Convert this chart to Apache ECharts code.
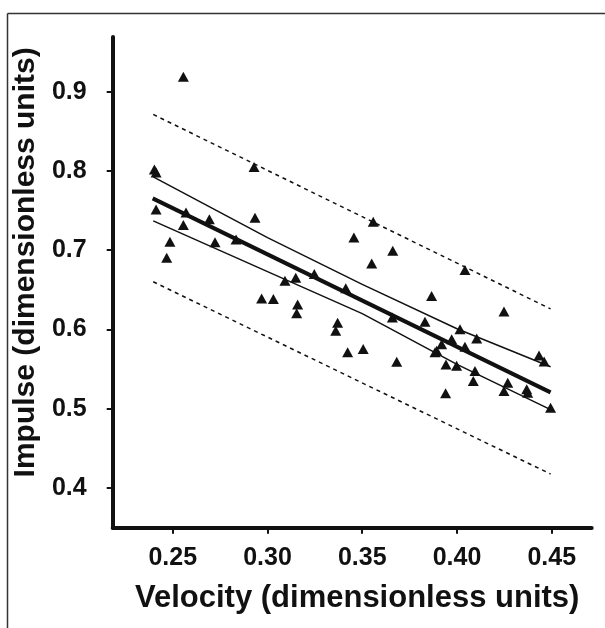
<!DOCTYPE html>
<html>
<head>
<meta charset="utf-8">
<script src="https://cdn.jsdelivr.net/npm/echarts@6/dist/echarts.min.js"></script>
<style>
  html, body { margin: 0; padding: 0; background: #fff; }
  #chart { width: 605px; height: 628px; }
</style>
</head>
<body>
<div id="chart"></div>
<script>
// measured points (velocity, impulse)
var velocity = [0.2403, 0.2412, 0.2556, 0.2929, 0.2412, 0.2570, 0.2693, 0.2556, 0.2934, 0.2485,
                0.2723, 0.2834, 0.2468, 0.3456, 0.3092, 0.3149, 0.3247, 0.3413, 0.2969, 0.3031,
                0.3159, 0.3154, 0.3370, 0.3558, 0.3661, 0.3550, 0.3866, 0.3659, 0.4042, 0.3831,
                0.3360, 0.4016, 0.4104, 0.3972, 0.3919, 0.4042, 0.3893, 0.3884, 0.3423, 0.3505,
                0.3682, 0.3942, 0.3998, 0.4095, 0.4086, 0.3940, 0.4268, 0.4248, 0.4368, 0.4373,
                0.4494, 0.4248, 0.4433, 0.4460];
var impulse = [0.802, 0.798, 0.919, 0.805, 0.7515, 0.7477, 0.739, 0.7317, 0.741, 0.7107,
               0.710, 0.7137, 0.6905, 0.716, 0.6615, 0.6653, 0.670, 0.652, 0.639, 0.6384,
               0.6317, 0.6204, 0.6085, 0.7359, 0.6993, 0.6834, 0.6422, 0.6153, 0.675, 0.6098,
               0.5984, 0.6002, 0.5888, 0.5876, 0.5813, 0.5783, 0.5732, 0.5712, 0.5712, 0.5753,
               0.5593, 0.556, 0.5543, 0.5476, 0.535, 0.5195, 0.5329, 0.5224, 0.5245, 0.5203,
               0.5013, 0.6227, 0.5673, 0.5598];

// regression line
var fitX = [0.2394, 0.4494];
var fitY = [0.7654, 0.5207];

// confidence band
var bandX = [0.2397, 0.30, 0.35, 0.40, 0.4494];
var confUpper = [0.7926, 0.716, 0.657, 0.601, 0.553];
var confLower = [0.737, 0.673, 0.620, 0.556, 0.499];

// prediction band
var predX = [0.2397, 0.4494];
var predUpper = [0.8713, 0.626];
var predLower = [0.6602, 0.4177];

var xTicks = [0.25, 0.30, 0.35, 0.40, 0.45];
var yTicks = [0.4, 0.5, 0.6, 0.7, 0.8, 0.9];

function pairs(xs, ys) {
    return xs.map(function (x, i) { return [x, ys[i]]; });
}

var font = '"Liberation Sans", Arial, sans-serif';
var ink = '#111';

function bandLine(xs, ys, width, dashed) {
    return {
        type: 'line',
        data: pairs(xs, ys),
        symbol: 'none',
        silent: true,
        z: 2,
        lineStyle: { color: ink, width: width, type: dashed ? [4, 4] : 'solid' }
    };
}

var chart = echarts.init(document.getElementById('chart'));
chart.setOption({
    animation: false,
    backgroundColor: '#fff',
    grid: { left: 112.7, right: 13.3, top: 37, bottom: 100.3 },
    graphic: [
        { type: 'line', shape: { x1: 7.5, y1: 13.5, x2: 605, y2: 13.5 }, style: { stroke: '#333', lineWidth: 1.5 } },
        { type: 'line', shape: { x1: 7.5, y1: 13.5, x2: 7.5, y2: 628 }, style: { stroke: '#333', lineWidth: 1.5 } }
    ],
    xAxis: {
        type: 'value',
        min: 0.2183,
        max: 0.4711,
        splitLine: { show: false },
        axisLine: { onZero: false, lineStyle: { color: ink, width: 4 } },
        axisTick: { customValues: xTicks, length: 6, lineStyle: { color: ink, width: 2 } },
        axisLabel: {
            customValues: xTicks,
            margin: 18,
            color: ink,
            fontFamily: font,
            fontWeight: 'bold',
            fontSize: 25,
            formatter: function (v) { return v.toFixed(2); }
        },
        name: 'Velocity (dimensionless units)',
        nameLocation: 'middle',
        nameGap: 55,
        nameTextStyle: { color: ink, fontFamily: font, fontWeight: 'bold', fontSize: 31, padding: [0, 0, 0, 10] }
    },
    yAxis: {
        type: 'value',
        min: 0.35,
        max: 0.969,
        splitLine: { show: false },
        axisLine: { onZero: false, lineStyle: { color: ink, width: 4 } },
        axisTick: { customValues: yTicks, length: 6, lineStyle: { color: ink, width: 2 } },
        axisLabel: {
            customValues: yTicks,
            margin: 26,
            color: ink,
            fontFamily: font,
            fontWeight: 'bold',
            fontSize: 25,
            formatter: function (v) { return v.toFixed(1); }
        },
        name: 'Impulse (dimensionless units)',
        nameLocation: 'middle',
        nameGap: 64,
        nameTextStyle: { color: ink, fontFamily: font, fontWeight: 'bold', fontSize: 30, padding: [0, 0, 0, 40] }
    },
    series: [
        bandLine(predX, predUpper, 1.5, true),
        bandLine(predX, predLower, 1.5, true),
        bandLine(bandX, confUpper, 1.5, false),
        bandLine(bandX, confLower, 1.5, false),
        bandLine(fitX, fitY, 4, false),
        {
            type: 'scatter',
            data: pairs(velocity, impulse),
            symbol: 'triangle',
            symbolSize: [11, 10],
            itemStyle: { color: ink, opacity: 1 },
            z: 3
        }
    ]
});
</script>
</body>
</html>
